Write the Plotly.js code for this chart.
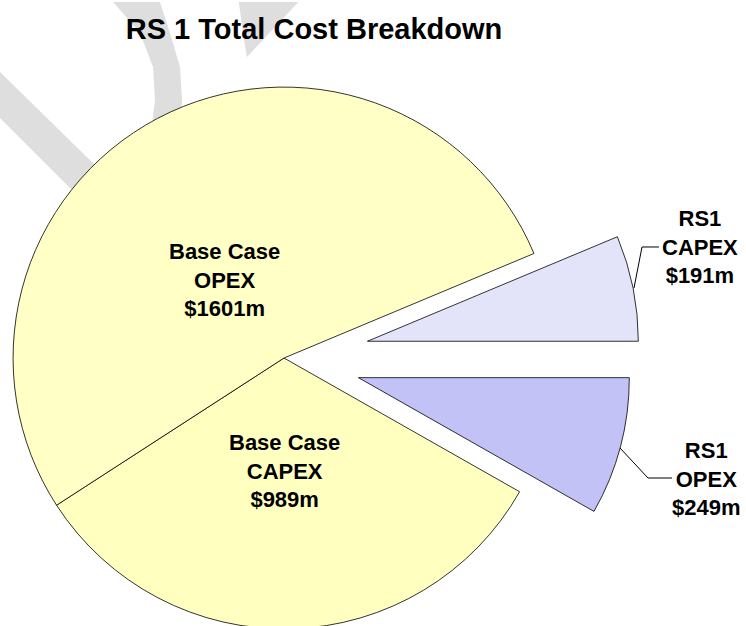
<!DOCTYPE html>
<html>
<head>
<meta charset="utf-8">
<script src="https://cdn.plot.ly/plotly-3.0.1.min.js"></script>
<style>
  html, body { margin: 0; padding: 0; width: 746px; height: 626px; overflow: hidden; background: #ffffff; }
  #chart { position: absolute; left: -72px; top: 2px; width: 830px; height: 712px; }
</style>
</head>
<body>
<div id="chart"></div>
<script>
// ---- data (clockwise from 3 o'clock) ----
const labels = ['RS1 OPEX', 'Base Case CAPEX', 'Base Case OPEX', 'RS1 CAPEX'];
const labelLines = [['RS1', 'OPEX'], ['Base Case', 'CAPEX'], ['Base Case', 'OPEX'], ['RS1', 'CAPEX']];
const values = [249, 989, 1601, 191];   // $m
const pulls = [0.284, 0, 0, 0.314];
const colors = ['#c2c2f6', '#ffffc0', '#ffffc6', '#e3e3fa'];
const titleText = 'RS 1 Total Cost Breakdown';

// ---- helpers: page pixel -> paper fraction (plot div is offset by CSS) ----
const W = 830, H = 712, OX = -72, OY = 2, PIE = 712;
const X = px => (px - OX) / W;
const Y = py => 1 - (py - OY) / H;
function path(pts) {
  return pts.map((p, i) => (i ? 'L' : 'M') + X(p[0]).toFixed(5) + ',' + Y(p[1]).toFixed(5)).join(' ');
}
function poly(pts) { return path(pts) + ' Z'; }

// label placement (page pixels, centre of text block)
const labelPos = [[706, 479], [284, 471], [224, 280], [700, 247]];
const leaders = [
  [[620, 448], [648, 478], [672, 478]],
  null, null,
  [[634, 288], [642, 247], [659, 247]]
];

const font = 'Liberation Sans, Arial, Helvetica, sans-serif';

const annotations = labels.map((l, i) => ({
  xref: 'paper', yref: 'paper',
  x: X(labelPos[i][0]), y: Y(labelPos[i][1]),
  xanchor: 'center', yanchor: 'middle', align: 'center',
  showarrow: false,
  text: labelLines[i].join('<br>') + '<br>$' + values[i] + 'm',
  font: { family: font, size: 22, color: '#000000', weight: 700 }
}));

const shapes = [];
// watermark fragments (behind the pie)
const wmColor = '#dedede';
shapes.push({ type: 'path', layer: 'below', xref: 'paper', yref: 'paper', line: { width: 0 }, fillcolor: wmColor,
  path: poly([[0, 72], [150, 219], [150, 268], [0, 118]]) });
shapes.push({ type: 'path', layer: 'below', xref: 'paper', yref: 'paper', line: { width: 0 }, fillcolor: wmColor,
  path: poly([[108, -4], [140, 33], [153, 67], [155, 100], [150, 140], [180, 140], [182, 100], [180, 67], [170, 33], [158, -4]]) });
shapes.push({ type: 'path', layer: 'below', xref: 'paper', yref: 'paper', line: { width: 0 }, fillcolor: wmColor,
  path: poly([[238, -4], [304, -4], [247, 57], [244, 40]]) });
// leader lines
leaders.forEach(l => {
  if (!l) return;
  shapes.push({ type: 'path', xref: 'paper', yref: 'paper', line: { color: '#000000', width: 1 }, path: path(l) });
});

const trace = {
  type: 'pie',
  labels: labels,
  values: values,
  sort: false,
  direction: 'clockwise',
  rotation: 90,
  pull: pulls,
  marker: { colors: colors, line: { color: '#000000', width: 0.8 } },
  textinfo: 'none',
  hoverinfo: 'label+value',
  showlegend: false,
  domain: { x: [0, PIE / W], y: [0, 1] }
};

const layout = {
  width: W, height: H,
  margin: { l: 0, r: 0, t: 0, b: 0 },
  paper_bgcolor: 'rgba(0,0,0,0)',
  plot_bgcolor: 'rgba(0,0,0,0)',
  showlegend: false,
  title: {
    text: titleText,
    font: { family: font, size: 29, color: '#000000', weight: 700 },
    xref: 'container', yref: 'container',
    x: X(314), y: Y(29), xanchor: 'center', yanchor: 'middle'
  },
  annotations: annotations,
  shapes: shapes
};

Plotly.newPlot('chart', [trace], layout, { staticPlot: true, displayModeBar: false });
</script>
</body>
</html>
